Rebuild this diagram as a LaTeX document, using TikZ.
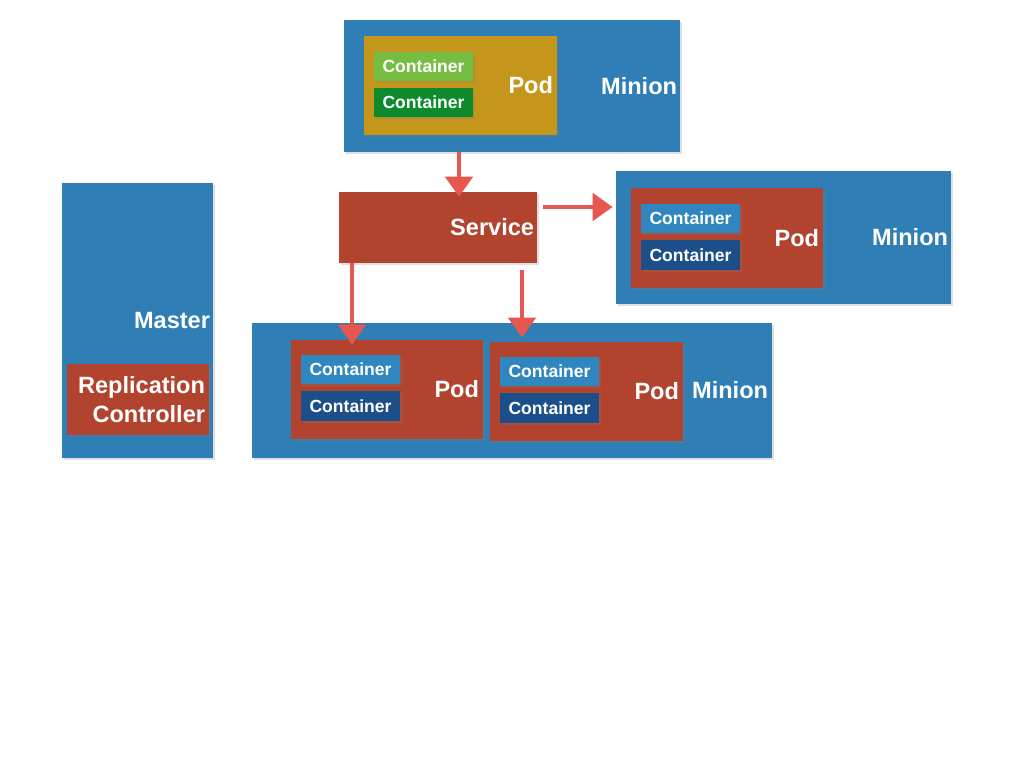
\documentclass[tikz,border=0pt]{standalone}
\usepackage{fontspec}
\setmainfont{Liberation Sans}
\setsansfont{Liberation Sans}
\usepackage{xcolor}
\definecolor{minionblue}{HTML}{2F7EB5}
\definecolor{podred}{HTML}{B2432F}
\definecolor{podgold}{HTML}{C4961C}
\definecolor{ctrblue}{HTML}{3087C0}
\definecolor{ctrnavy}{HTML}{1C4F8A}
\definecolor{ctrlime}{HTML}{76BE42}
\definecolor{ctrgreen}{HTML}{0C8A2C}
\definecolor{arrowred}{HTML}{E5574F}
\usetikzlibrary{arrows.meta, positioning, calc, fit, shadows}

\begin{document}
\begin{tikzpicture}[x=0.02cm, y=-0.02cm,
    every node/.style={font=\sffamily\bfseries, text=white},
    panel/.style={inner sep=0pt, drop shadow={shadow xshift=0.03cm, shadow yshift=-0.04cm, opacity=0.25}},
    minion/.style={panel, fill=minionblue},
    pod/.style={panel, fill=podred},
    ctr/.style={panel},
    ctrtext/.style={inner sep=0pt, font=\sffamily\bfseries\fontsize{10}{12}\selectfont},
    tag/.style={inner sep=0pt, anchor=east, font=\sffamily\bfseries\fontsize{13.4}{16.4}\selectfont},
    flow/.style={arrowred, line width=2.8pt, -{Triangle[width=0.54cm, length=0.4cm]}}]
  \useasboundingbox[fill=white] (0,0) rectangle (1024,768);

  % Master
  \node[minion, fit={(62,183) (213,458)}] (master) {};
  \node[tag] (masterTag) at ([xshift=-0.06cm]master.east) {Master};
  \node[pod, fit={(67,364) (209,435)}] (rc) {};
  \node[tag, align=right] (rcTag) at ([xshift=-0.08cm]rc.east) {Replication\\Controller};

  % Top minion
  \node[minion, fit={(344,20) (680,152)}] (minionTop) {};
  \node[tag] (minionTopTag) at ([xshift=-0.06cm]minionTop.east) {Minion};
  \node[pod, fill=podgold, fit={(364,36) (557,135)}] (podTop) {};
  \node[tag] (podTopTag) at ([xshift=-0.08cm]podTop.east) {Pod};
  \node[ctr, fill=ctrlime, fit={(374,52) (473,81)}, label={[ctrtext]center:Container}] (ctrTopA) {};
  \node[ctr, fill=ctrgreen, fit={(374,88) (473,117)}, label={[ctrtext]center:Container}] (ctrTopB) {};

  % Service
  \node[pod, fit={(339,192) (537,263)}] (service) {};
  \node[tag] (serviceTag) at ([xshift=-0.06cm]service.east) {Service};

  % Right minion
  \node[minion, fit={(616,171) (951,304)}] (minionRight) {};
  \node[tag] (minionRightTag) at ([xshift=-0.06cm]minionRight.east) {Minion};
  \node[pod, fit={(631,188) (823,288)}] (podR) {};
  \node[tag] (podRTag) at ([xshift=-0.08cm]podR.east) {Pod};

  % Bottom minion
  \node[minion, fit={(252,323) (772,458)}] (minionBottom) {};
  \node[tag] (minionBottomTag) at ([xshift=-0.08cm]minionBottom.east) {Minion};
  \node[pod, fit={(291,340) (483,439)}] (podB1) {};
  \node[tag] (podB1Tag) at ([xshift=-0.08cm]podB1.east) {Pod};
  \node[pod, fit={(490,342) (683,441)}] (podB2) {};
  \node[tag] (podB2Tag) at ([xshift=-0.08cm]podB2.east) {Pod};

  % Containers
  \foreach \n/\x/\y in {R/641/204, B1/301/355, B2/500/357}{
    \node[ctr, fill=ctrblue, fit={(\x,\y) (\x+99,\y+29)}, label={[ctrtext]center:Container}] (ctr\n a) {};
    \node[ctr, fill=ctrnavy, fit={(\x,\y+36) (\x+99,\y+66)}, label={[ctrtext]center:Container}] (ctr\n b) {};
  }

  % Arrows
  \coordinate (xTop) at (459,0);
  \coordinate (yRight) at (0,207);
  \coordinate (xLeft) at (352,0);
  \coordinate (xMid) at (522,0);
  \draw[flow, shorten >=-0.1cm] (minionTop.south -| xTop) -- (service.north -| xTop);
  \draw[flow, shorten <=0.12cm, shorten >=0.06cm] (service.east |- yRight) -- (minionRight.west |- yRight);
  \draw[flow, shorten >=-0.1cm] (service.south -| xLeft) -- (podB1.north -| xLeft);
  \draw[flow, shorten <=0.14cm, shorten >=0.08cm] (service.south -| xMid) -- (podB2.north -| xMid);
\end{tikzpicture}
\end{document}
